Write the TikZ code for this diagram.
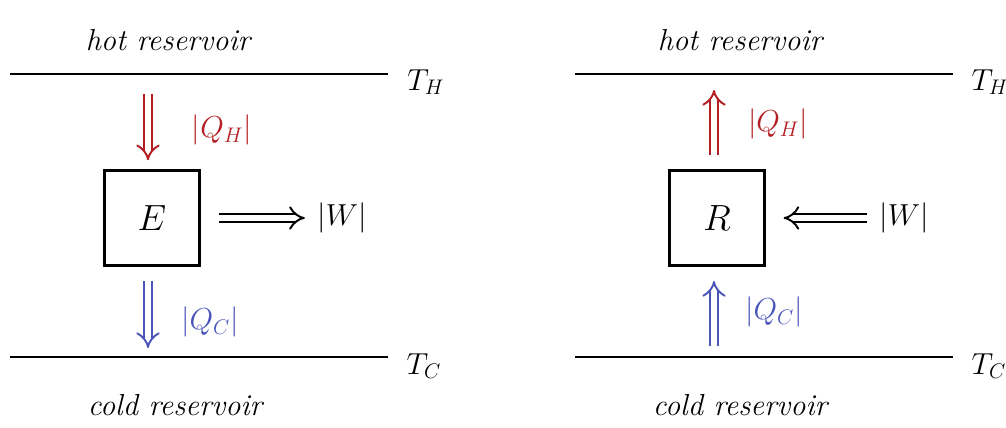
\documentclass[tikz,border=0pt]{standalone}
\usetikzlibrary{arrows.meta}
\definecolor{hotred}{RGB}{180,30,35}
\definecolor{coldblue}{RGB}{75,85,185}
\begin{document}
\begin{tikzpicture}[
  x=0.02cm, y=-0.02cm,
  machine/.style={rectangle, draw=black, line width=1.7pt, minimum size=1.9cm, inner sep=0pt, font=\huge},
  wall/.style={line width=1.7pt, draw=black},
  flow/.style={double, double distance=3.5pt, line width=1.1pt, -{Implies}},
  lbl/.style={font=\LARGE, inner sep=1pt}
]
  \useasboundingbox (0,0) rectangle (1006,428);

  % Motor
  \node[lbl] (hotL) at (168,40) {\itshape hot reservoir};
  \coordinate (wHL1) at (10,74); \coordinate (wHL2) at (388,74);
  \coordinate (wCL1) at (10,357); \coordinate (wCL2) at (388,357);
  \node[lbl] (thL) at (426,82) {$T_H$};
  \node[lbl] (tcL) at (424,366) {$T_C$};
  \node[lbl] (coldL) at (175,405) {\itshape cold reservoir};
  \node[machine] (E) at (152,218) {$E$};
  \coordinate (qhL) at (148,94);
  \coordinate (qcL) at (148,348);
  \node[lbl, text=hotred] (qhlL) at (222,130) {$|Q_H|$};
  \node[lbl, text=coldblue] (qclL) at (210,322) {$|Q_C|$};
  \node[lbl] (wL) at (342,218) {$|W|$};

  \draw[wall] (wHL1) -- (wHL2);
  \draw[wall] (wCL1) -- (wCL2);
  \draw[flow, hotred, shorten >=5pt] (qhL) -- (E.north -| qhL);
  \draw[flow, coldblue, shorten <=8pt] (E.south -| qcL) -- (qcL);
  \draw[flow, shorten <=10pt, shorten >=6pt] (E.east) -- (wL.west);

  % Refrigerador
  \node[lbl] (hotR) at (740,40) {\itshape hot reservoir};
  \coordinate (wHR1) at (575,74); \coordinate (wHR2) at (953,74);
  \coordinate (wCR1) at (575,357); \coordinate (wCR2) at (953,357);
  \node[lbl] (thR) at (990,82) {$T_H$};
  \node[lbl] (tcR) at (989,366) {$T_C$};
  \node[lbl] (coldR) at (740,405) {\itshape cold reservoir};
  \node[machine] (R) at (717,218) {$R$};
  \coordinate (qhR) at (714,90);
  \coordinate (qcR) at (714,346);
  \node[lbl, text=hotred] (qhlR) at (778,124) {$|Q_H|$};
  \node[lbl, text=coldblue] (qclR) at (774,312) {$|Q_C|$};
  \node[lbl] (wR) at (904,218) {$|W|$};

  \draw[wall] (wHR1) -- (wHR2);
  \draw[wall] (wCR1) -- (wCR2);
  \draw[flow, hotred, shorten <=8pt] (R.north -| qhR) -- (qhR);
  \draw[flow, coldblue, shorten >=8pt] (qcR) -- (R.south -| qcR);
  \draw[flow, shorten <=6pt, shorten >=10pt] (wR.west) -- (R.east);
\end{tikzpicture}
\end{document}
